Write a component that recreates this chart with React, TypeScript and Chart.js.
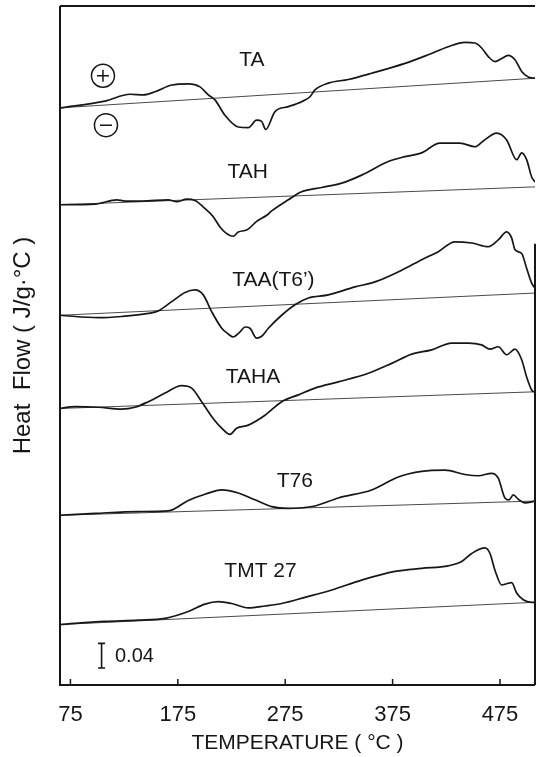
import React, { useEffect, useRef } from "react";
import { Chart, registerables } from "chart.js";

Chart.register(...registerables);

// Temperature axis (°C)
const TEMP_MIN = 65.3;
const TEMP_MAX = 507.6;
const TEMP_TICKS = [75, 175, 275, 375, 475];

// Stacked DSC traces, heat flow in J/g·°C (offset per sample)
const TA_T = [65.3, 107.2, 130.5, 142.9, 153.8, 169.3, 184.8, 195.7, 203.4, 209.6, 218.9, 231.3, 240.6, 248.4, 253.1, 256.8, 265.5, 277.9, 290.3, 298.1, 302.7, 315.1, 333.7, 355.5, 386.5, 408.2, 426.8, 442.4, 451.7, 457.9, 464.1, 470.3, 476.6, 482.7, 488.9, 495.2, 501.3, 507.6];
const TA_Q = [0.935, 0.946, 0.957, 0.956, 0.961, 0.972, 0.974, 0.969, 0.956, 0.948, 0.923, 0.904, 0.903, 0.915, 0.913, 0.9, 0.929, 0.937, 0.945, 0.953, 0.964, 0.975, 0.981, 0.991, 1.007, 1.021, 1.034, 1.041, 1.04, 1.032, 1.018, 1.01, 1.015, 1.02, 1.013, 0.994, 0.985, 0.983];

const TAH_T = [65.3, 97.9, 118.1, 125.8, 141.4, 166.1, 174.0, 183.3, 191.0, 200.3, 207.8, 214.3, 219.9, 226.7, 231.3, 239.1, 248.4, 257.8, 262.4, 277.9, 290.3, 309.0, 327.6, 346.2, 371.0, 386.5, 402.1, 419.1, 437.7, 451.7, 459.2, 471.9, 481.2, 490.5, 495.2, 499.8, 504.5, 507.6];
const TAH_Q = [0.778, 0.779, 0.786, 0.784, 0.784, 0.786, 0.783, 0.787, 0.785, 0.772, 0.759, 0.742, 0.732, 0.727, 0.734, 0.737, 0.751, 0.761, 0.768, 0.786, 0.799, 0.806, 0.813, 0.826, 0.848, 0.856, 0.862, 0.878, 0.878, 0.872, 0.881, 0.894, 0.883, 0.851, 0.862, 0.851, 0.823, 0.815];

const TAA_T = [65.3, 101.0, 122.7, 147.5, 156.8, 169.3, 181.7, 191.0, 198.7, 206.5, 215.9, 221.7, 226.4, 232.9, 237.6, 242.2, 248.4, 253.1, 259.3, 271.7, 284.1, 296.5, 315.1, 340.0, 358.6, 383.5, 402.1, 417.5, 433.1, 448.6, 464.1, 473.4, 481.2, 485.9, 489.0, 495.2, 499.8, 504.5, 507.6];
const TAA_Q = [0.599, 0.595, 0.597, 0.602, 0.606, 0.621, 0.636, 0.64, 0.632, 0.605, 0.578, 0.569, 0.564, 0.572, 0.58, 0.578, 0.562, 0.565, 0.578, 0.599, 0.616, 0.627, 0.632, 0.645, 0.653, 0.672, 0.689, 0.702, 0.718, 0.716, 0.71, 0.721, 0.734, 0.724, 0.705, 0.699, 0.675, 0.651, 0.643];

const TAHA_T = [65.3, 79.3, 101.0, 122.7, 135.1, 147.5, 163.1, 178.6, 187.9, 197.2, 206.5, 215.9, 223.6, 229.8, 240.6, 256.2, 271.7, 287.2, 302.7, 324.4, 352.4, 374.1, 392.8, 411.4, 430.0, 445.5, 457.9, 465.7, 473.4, 481.2, 488.9, 495.2, 499.8, 504.5, 507.6];
const TAHA_Q = [0.448, 0.451, 0.45, 0.447, 0.45, 0.459, 0.473, 0.485, 0.481, 0.459, 0.435, 0.416, 0.406, 0.416, 0.421, 0.437, 0.459, 0.47, 0.481, 0.491, 0.505, 0.521, 0.536, 0.543, 0.554, 0.554, 0.551, 0.544, 0.548, 0.535, 0.544, 0.527, 0.499, 0.478, 0.474];

const T76_T = [65.3, 97.9, 138.2, 166.1, 184.8, 200.3, 215.9, 231.3, 246.9, 262.4, 277.9, 302.7, 324.4, 355.5, 380.3, 402.1, 423.8, 442.4, 454.8, 467.3, 473.4, 479.6, 483.4, 487.4, 492.0, 498.3, 507.6];
const T76_Q = [0.275, 0.278, 0.281, 0.282, 0.299, 0.309, 0.316, 0.311, 0.3, 0.289, 0.286, 0.29, 0.303, 0.316, 0.337, 0.346, 0.348, 0.341, 0.339, 0.343, 0.335, 0.303, 0.3, 0.308, 0.301, 0.295, 0.298];

const TMT_T = [65.3, 107.2, 138.2, 163.1, 184.8, 200.3, 212.7, 225.2, 240.6, 256.2, 271.7, 293.4, 318.3, 346.2, 377.2, 402.1, 426.8, 439.3, 448.6, 461.0, 465.7, 470.3, 476.6, 481.2, 485.9, 490.5, 496.7, 504.5, 507.6];
const TMT_Q = [0.098, 0.103, 0.105, 0.108, 0.119, 0.131, 0.135, 0.132, 0.125, 0.128, 0.132, 0.142, 0.154, 0.17, 0.184, 0.189, 0.193, 0.2, 0.213, 0.222, 0.213, 0.186, 0.162, 0.164, 0.166, 0.149, 0.138, 0.134, 0.134];

// Straight reference baselines, value at TEMP_MIN and TEMP_MAX
const BASE_T = [TEMP_MIN, TEMP_MAX];
const TA_BASE = [0.935, 0.983];
const TAH_BASE = [0.778, 0.807];
const TAA_BASE = [0.599, 0.635];
const TAHA_BASE = [0.448, 0.475];
const T76_BASE = [0.275, 0.298];
const TMT_BASE = [0.098, 0.134];

const SAMPLE_NAMES = ["TA", "TAH", "TAA(T6’)", "TAHA", "T76", "TMT 27"];

// Heat-flow scale bar
const SCALE_BAR = 0.04;
const SCALE_BAR_LABEL = "0.04";

const SERIES = [
  { t: TA_T, q: TA_Q, base: TA_BASE },
  { t: TAH_T, q: TAH_Q, base: TAH_BASE },
  { t: TAA_T, q: TAA_Q, base: TAA_BASE },
  { t: TAHA_T, q: TAHA_Q, base: TAHA_BASE },
  { t: T76_T, q: T76_Q, base: T76_BASE },
  { t: TMT_T, q: TMT_Q, base: TMT_BASE },
];

const INK = "#161616";
const SANS = "'Liberation Sans', Arial, sans-serif";
const LABEL_FONT = "21px " + SANS;

// Where each sample name sits (temperature, heat flow)
const NAME_ANCHORS: [number, number][] = [
  [244, 1.012],
  [240, 0.831],
  [264, 0.656],
  [245, 0.499],
  [284, 0.33],
  [252, 0.185],
];

const decorPlugin = {
  id: "dscDecor",
  afterDatasetsDraw(chart: any) {
    const { ctx, chartArea: a, scales } = chart;
    const x = scales.x;
    const y = scales.y;
    ctx.save();
    ctx.strokeStyle = INK;
    ctx.fillStyle = INK;
    ctx.lineCap = "butt";

    // frame
    ctx.lineWidth = 2;
    ctx.beginPath();
    ctx.moveTo(a.left, a.top);
    ctx.lineTo(a.right, a.top);
    ctx.moveTo(a.left, a.top);
    ctx.lineTo(a.left, a.bottom);
    ctx.lineTo(a.right, a.bottom);
    ctx.moveTo(a.right, a.bottom);
    ctx.lineTo(a.right, a.top + 0.35 * (a.bottom - a.top));
    ctx.stroke();

    // inward tick marks
    ctx.lineWidth = 1.5;
    ctx.beginPath();
    for (const v of TEMP_TICKS) {
      const px = x.getPixelForValue(v);
      ctx.moveTo(px, a.bottom);
      ctx.lineTo(px, a.bottom - 6);
    }
    ctx.stroke();

    // sample names
    ctx.font = LABEL_FONT;
    ctx.textAlign = "center";
    ctx.textBaseline = "middle";
    SAMPLE_NAMES.forEach((name, i) => {
      const [tv, qv] = NAME_ANCHORS[i];
      ctx.fillText(name, x.getPixelForValue(tv), y.getPixelForValue(qv));
    });

    // exo / endo signs
    const sign = (tv: number, qv: number, plus: boolean) => {
      const cx = x.getPixelForValue(tv);
      const cy = y.getPixelForValue(qv);
      ctx.lineWidth = 1.5;
      ctx.beginPath();
      ctx.arc(cx, cy, 11.5, 0, Math.PI * 2);
      ctx.moveTo(cx - 6, cy);
      ctx.lineTo(cx + 6, cy);
      if (plus) {
        ctx.moveTo(cx, cy - 6);
        ctx.lineTo(cx, cy + 6);
      }
      ctx.stroke();
    };
    sign(105.3, 0.987, true);
    sign(108.1, 0.907, false);

    // scale bar
    const barBase = 0.0275;
    const bx = x.getPixelForValue(104);
    const by0 = y.getPixelForValue(barBase);
    const by1 = y.getPixelForValue(barBase + SCALE_BAR);
    ctx.lineWidth = 1.6;
    ctx.beginPath();
    ctx.moveTo(bx, by0);
    ctx.lineTo(bx, by1);
    ctx.moveTo(bx - 3.5, by0);
    ctx.lineTo(bx + 3.5, by0);
    ctx.moveTo(bx - 3.5, by1);
    ctx.lineTo(bx + 3.5, by1);
    ctx.stroke();
    ctx.font = "20px " + SANS;
    ctx.textAlign = "left";
    ctx.fillText(SCALE_BAR_LABEL, x.getPixelForValue(116.5), (by0 + by1) / 2 + 1);

    ctx.restore();
  },
};

export default function App() {
  const canvasRef = useRef<HTMLCanvasElement | null>(null);

  useEffect(() => {
    if (!canvasRef.current) return;
    const datasets: any[] = [];
    SERIES.forEach((s) => {
      datasets.push({
        data: s.t.map((tv, i) => ({ x: tv, y: s.q[i] })),
        borderColor: INK,
        borderWidth: 1.7,
        pointRadius: 0,
        cubicInterpolationMode: "monotone",
        fill: false,
      });
      datasets.push({
        data: BASE_T.map((tv, i) => ({ x: tv, y: s.base[i] })),
        borderColor: "#4a4a4a",
        borderWidth: 1,
        pointRadius: 0,
        fill: false,
      });
    });

    const chart = new Chart(canvasRef.current, {
      type: "line",
      data: { datasets },
      plugins: [decorPlugin],
      options: {
        animation: false,
        responsive: false,
        layout: { padding: { top: 6, right: 2, left: 0, bottom: 0 } },
        plugins: { legend: { display: false }, tooltip: { enabled: false } },
        scales: {
          x: {
            type: "linear",
            min: TEMP_MIN,
            max: TEMP_MAX,
            afterBuildTicks: (s: any) => {
              s.ticks = TEMP_TICKS.map((v) => ({ value: v }));
            },
            afterFit: (s: any) => {
              s.height = 72;
            },
            grid: { display: false, drawTicks: false },
            border: { display: false },
            ticks: {
              color: INK,
              padding: 17,
              maxRotation: 0,
              autoSkip: false,
              font: { family: SANS, size: 22 },
            },
            title: {
              display: true,
              text: "TEMPERATURE ( °C )",
              color: INK,
              padding: { top: 0, bottom: 1 },
              font: { family: SANS, size: 21 },
            },
          },
          y: {
            type: "linear",
            min: 0,
            max: 1.1,
            afterFit: (s: any) => {
              s.width = 60;
            },
            grid: { display: false, drawTicks: false },
            border: { display: false },
            ticks: { display: false },
            title: {
              display: true,
              text: "Heat  Flow ( J/g·°C )",
              color: INK,
              padding: { top: 9, bottom: 0 },
              font: { family: SANS, size: 24 },
            },
          },
        },
      },
    });
    return () => chart.destroy();
  }, []);

  return (
    <div style={{ position: "fixed", left: 0, top: 0, width: 537, height: 757, background: "#fff" }}>
      <canvas ref={canvasRef} width={537} height={757} style={{ display: "block" }} />
    </div>
  );
}
